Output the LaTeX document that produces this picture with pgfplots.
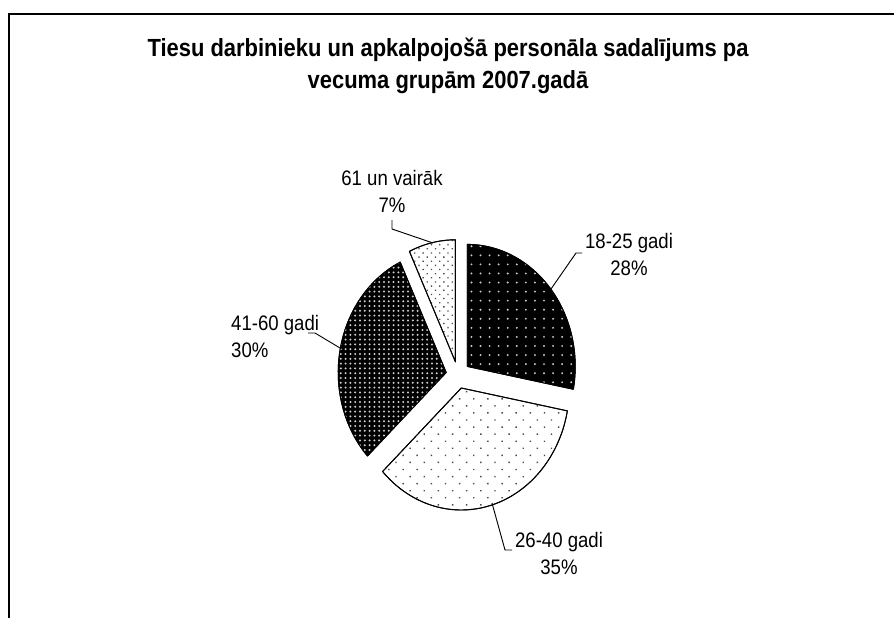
\documentclass[border=0pt]{standalone}
\usepackage{fontspec}
\setmainfont{Liberation Sans}
\usepackage{pgfplots}
\pgfplotsset{compat=1.18}
\usetikzlibrary{patterns.meta}

% shares (percent): 18-25 gadi 28, 26-40 gadi 35, 41-60 gadi 30, 61 un vairāk 7
\begin{document}
\begin{tikzpicture}
\begin{axis}[
  scale only axis, width=670.5pt, height=463.5pt,
  xmin=0, xmax=894, ymin=0, ymax=618, y dir=reverse,
  axis lines=none, enlargelimits=false, clip=false, ticks=none,
  every axis plot/.append style={no markers, draw=black, line width=0.7pt, line join=round},
]
% 18-25 gadi, 28%
\addplot[preaction={fill=black}, pattern={Dots[distance=6.8pt, radius=0.8pt]}, pattern color=white!80!black,
  domain={90-3.6*28}:{90}, samples=60]
  ({467.25+108*cos(x)},{366.4-122*sin(x)}) -- (axis cs:467.25,366.4) -- cycle;
% 26-40 gadi, 35%
\addplot[preaction={fill=white}, pattern={Dots[angle=45, distance=7.5pt, radius=0.75pt]}, pattern color=black!70,
  domain={90-3.6*(28+35)}:{90-3.6*28}, samples=70]
  ({461.3+108*cos(x)},{388-122*sin(x)}) -- (axis cs:461.3,388) -- cycle;
% 41-60 gadi, 30%
\addplot[preaction={fill=black}, pattern={Dots[distance=3.6pt, radius=0.85pt]}, pattern color=white!80!black,
  domain={90-3.6*(28+35+30)}:{90-3.6*(28+35)}, samples=60]
  ({446.2+108*cos(x)},{372.5-122*sin(x)}) -- (axis cs:446.2,372.5) -- cycle;
% 61 un vairāk, 7%
\addplot[preaction={fill=white}, pattern={Dots[angle=45, distance=4.4pt, radius=0.7pt]}, pattern color=black!70,
  domain={90-3.6*(28+35+30+7)}:{90-3.6*(28+35+30)}, samples=20]
  ({455.4+108*cos(x)},{361.8-122*sin(x)}) -- (axis cs:455.4,361.8) -- cycle;

% frame (cut at right and bottom)
\draw[line width=1.4pt] (axis cs:9,618) -- (axis cs:9,14) -- (axis cs:894,14);

% leader lines
\draw[line width=0.7pt] (axis cs:551,289) -- (axis cs:576,253) -- (axis cs:582,253);
\draw[line width=0.7pt] (axis cs:392,220) -- (axis cs:392,229) -- (axis cs:433,243);
\draw[line width=0.7pt] (axis cs:308,333) -- (axis cs:315,333) -- (axis cs:340,348);
\draw[line width=0.7pt] (axis cs:492,503) -- (axis cs:505,550) -- (axis cs:512,550);

% title
\node[xscale=0.885, align=center, font=\bfseries\fontsize{18.6}{24}\selectfont]
  at (axis cs:448,66) {Tiesu darbinieku un apkalpojošā personāla sadalījums pa\\vecuma grupām 2007.gadā};

% labels
\node[xscale=0.885, align=center, font=\fontsize{15.75}{20.25}\selectfont]
  at (axis cs:629,254.5) {18-25 gadi\\28\%};
\node[xscale=0.885, align=center, font=\fontsize{15.75}{20.25}\selectfont]
  at (axis cs:559,553) {26-40 gadi\\35\%};
\node[xscale=0.885, align=left, anchor=west, inner xsep=0pt, font=\fontsize{15.75}{20.25}\selectfont]
  at (axis cs:231,336.5) {41-60 gadi\\30\%};
\node[xscale=0.885, align=center, font=\fontsize{15.75}{20.25}\selectfont]
  at (axis cs:392,191.5) {61 un vairāk\\7\%};
\end{axis}
\pgfresetboundingbox
\useasboundingbox (current axis.south west) rectangle (current axis.north east);
\end{tikzpicture}
\end{document}
